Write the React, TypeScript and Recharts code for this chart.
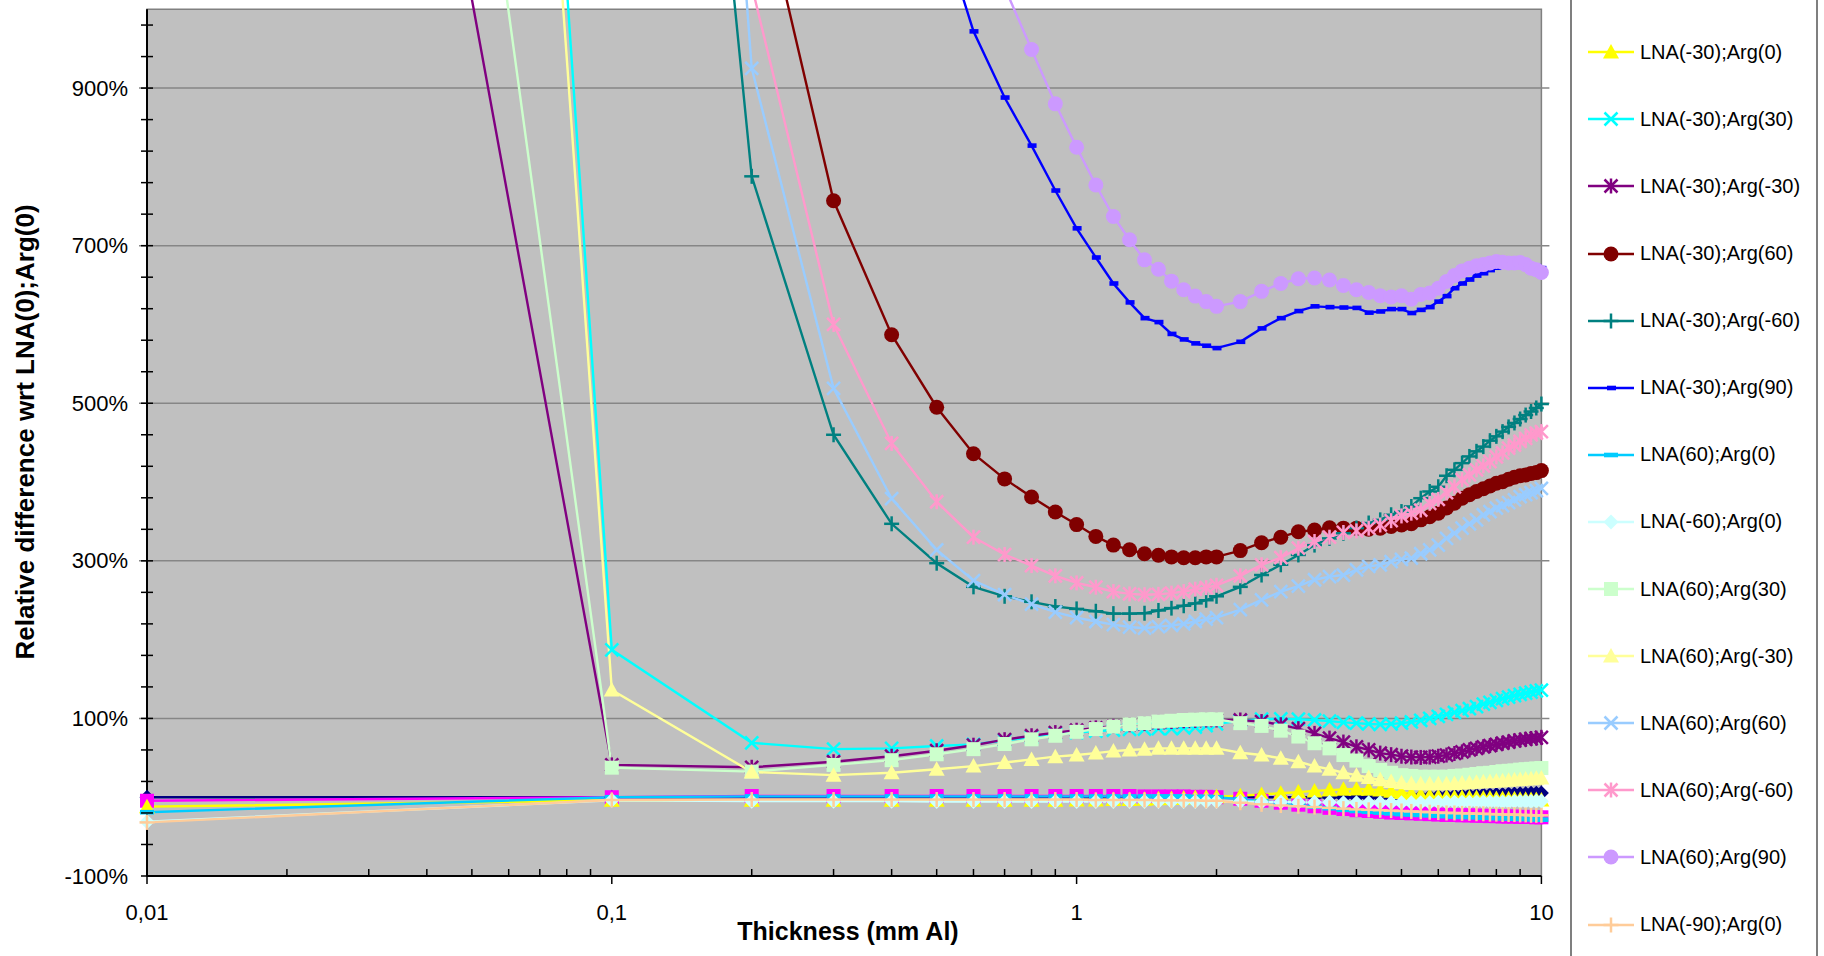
import React from 'react';
import { LineChart, Line, XAxis, YAxis, ReferenceArea, ReferenceLine, Label } from 'recharts';

// ---------------- data ----------------
const THICKNESS = [
  0.01, 0.1,
  0.2, 0.3, 0.4, 0.5, 0.6, 0.7, 0.8, 0.9, 1, 1.1, 1.2, 1.3, 1.4, 1.5, 1.6, 1.7, 1.8, 1.9, 2,
  2.25, 2.5, 2.75, 3, 3.25, 3.5, 3.75, 4, 4.25, 4.5, 4.75, 5, 5.25, 5.5, 5.75, 6, 6.25, 6.5, 6.75,
  7, 7.25, 7.5, 7.75, 8, 8.25, 8.5, 8.75, 9, 9.25, 9.5, 9.75, 10,
];

const SERIES_NAMES = [
  'LNA(0);Arg(0)',
  'LNA(30);Arg(0)',
  'LNA(-30);Arg(0)',
  'LNA(-30);Arg(30)',
  'LNA(-30);Arg(-30)',
  'LNA(-30);Arg(60)',
  'LNA(-30);Arg(-60)',
  'LNA(-30);Arg(90)',
  'LNA(60);Arg(0)',
  'LNA(-60);Arg(0)',
  'LNA(60);Arg(30)',
  'LNA(60);Arg(-30)',
  'LNA(60);Arg(60)',
  'LNA(60);Arg(-60)',
  'LNA(60);Arg(90)',
  'LNA(-90);Arg(0)',
];

// first legend entry visible in the picture (earlier ones lie above the image)
const FIRST_VISIBLE_LEGEND_ENTRY = 2;

const LNA0_ARG0 = [0, 0,
  0, 0, 0, 0, 0, 0, 0, 0, 0, 0, 0, 0, 0, 0, 0, 0, 0, 0, 0,
  0, 0, 0, 0, 0, 0, 0, 0, 0, 0, 0, 0.5, 0.5, 1, 1, 1.5, 1.5, 2, 2, 2.5, 2.5, 3, 3, 3.5, 3.5, 4, 4, 4.5, 4.5, 5, 5, 5.5];
const LNA30_ARG0 = [-4.5, 0,
  1.5, 1.5, 1.5, 1.5, 1.5, 1.5, 1.5, 1.5, 1.5, 1.5, 1.5, 1.5, 1, 1, 1, 1, 0.5, 0.5, 0,
  -2, -4.5, -7, -9.5, -11.5, -13.5, -15, -16.5, -17.5, -18.5, -19.5, -20, -20.5, -21, -21.5, -22, -22.5, -22.5, -23, -23, -23.5, -23.5, -24, -24, -24.5, -24.5, -24.5, -25, -25, -25, -25.5, -25.5];
const LNAm30_ARG0 = [-12, -4,
  -4, -4, -4, -4, -4, -4, -4, -4, -3.5, -3.5, -3, -3, -2.5, -2, -1.5, -1, -0.5, 0, 0.5,
  2, 3.5, 5, 6.5, 8, 9, 10, 10.5, 10, 9, 7.5, 6, 4.5, 3, 2, 1, 0.5, 0, 0, -0.5, -0.5, -1, -1, -1.5, -1.5, -2, -2, -2.5, -2.5, -3, -3, -3.5];
const LNAm30_ARG30 = [8869, 187,
  69, 61, 62, 65, 67, 72, 76, 80, 82, 84, 85, 86, 86.5, 87, 87, 88, 89, 91, 93,
  97, 99, 99.5, 99, 98, 96.5, 95, 94, 93, 92.5, 93, 94, 95.5, 97.5, 100, 102.5, 105, 107.5, 110, 112.5, 115, 118, 120.5, 123, 125, 127, 129, 130.5, 132, 133.5, 135, 136];
const LNAm30_ARGm30 = [3269, 41,
  38, 45, 52, 59, 66, 73, 78, 82, 85, 88, 90, 92, 93.5, 95, 96, 97, 97.5, 98, 98,
  98, 96, 92, 87, 81, 75, 70, 64, 60, 56, 54, 52, 51, 50.5, 51, 52, 53.5, 55.5, 57.5, 60, 62, 64, 65.5, 67, 68.5, 70, 71.5, 72.5, 73.5, 74.5, 75, 76];
const LNAm30_ARG60 = [50000, 8000,
  1202, 757, 587, 495, 436, 404, 381, 362, 346, 331, 320, 314, 309, 307, 305, 304, 304, 305, 305,
  313, 323, 330, 337, 339, 342, 341.5, 341.5, 340, 341.5, 343.5, 345.5, 347, 352, 356, 360.5, 367, 373, 379.5, 384, 388, 391.5, 395, 398.5, 400.5, 403.5, 406, 408, 409, 411, 412, 414.5];
const LNAm30_ARGm60 = [30000, 2578,
  788, 460, 347, 297, 267, 255, 248, 242, 239, 236, 233, 233, 233.5, 237, 240, 243, 246, 250, 255,
  267, 282, 295, 307.5, 320, 328.5, 335, 341.5, 348, 352, 358.5, 362.5, 369, 379.5, 388, 394, 408, 415.5, 424, 432.5, 439, 445, 452.5, 458, 464, 470, 475, 480, 485, 489.5, 494, 499];
const LNAm30_ARG90 = [60000, 20000,
  6000, 3000, 1800, 1121, 972, 888, 827, 770, 722, 685, 652, 628, 608, 603, 588, 581, 576, 573, 570,
  578, 595, 608, 617, 623, 622, 621.5, 621, 615, 616.5, 619.5, 619.5, 614.5, 618.5, 622, 629, 636, 646, 652, 657, 662, 665, 669, 672, 674, 675, 675.5, 675.5, 676, 675, 674, 671.5];
const LNA60_ARG0 = [-19, 0,
  1, 1, 1, 1, 1, 1, 1, 1, 1, 1, 1, 1, 1, 1, 1, 1, 0.5, 0.5, 0,
  -2.5, -5, -7.5, -10, -12, -14, -16, -17.5, -18.5, -19.5, -20.5, -21.5, -22, -22.5, -23, -23.5, -24, -24.5, -25, -25, -25.5, -26, -26, -26.5, -26.5, -27, -27, -27.5, -27.5, -28, -28, -28.5];
const LNAm60_ARG0 = [-31, -4,
  -5, -5, -5, -5.5, -5.5, -5.5, -5.5, -5.5, -5.5, -5.5, -5.5, -5.5, -5.5, -5.5, -5.5, -5.5, -5.5, -5.5, -5.5,
  -5.5, -6, -6, -6.5, -6.5, -6.5, -7, -7, -7, -7, -7, -7, -7, -7, -7, -6.5, -6.5, -6.5, -6.5, -6.5, -6, -6, -6, -6, -6, -6, -5.5, -5.5, -5.5, -5.5, -5, -5];
const LNA60_ARG30 = [4360, 37.5,
  32.5, 41, 47, 54.5, 61, 67.5, 73.5, 78, 83, 86.5, 89.5, 92.5, 94, 96, 97, 98, 98.5, 99, 99,
  94, 90.5, 84.5, 77, 68.5, 62, 53.5, 46.5, 39.5, 34.5, 31, 28, 27, 26, 26, 26, 26, 27, 27.5, 28.5, 29.5, 30.5, 31, 32, 33, 33.5, 34, 35, 35.5, 36, 36.5, 37];
const LNA60_ARGm30 = [8414, 136,
  32, 28, 31, 35.5, 39.5, 44, 48, 51.5, 53.5, 56, 58.5, 60, 61, 62, 62, 62, 62, 62, 62,
  56.5, 53.5, 49.5, 45, 39.5, 35.5, 31, 28, 25, 22, 20, 18.5, 17.5, 17, 17, 17, 17, 17.5, 18, 18.5, 19, 19.5, 20, 20.5, 21, 21.5, 22, 22.5, 23, 23.5, 24, 24.5];
const LNA60_ARG60 = [35000, 3304,
  925, 519, 379, 314, 275, 257, 245, 235, 228, 223, 219, 216, 214.5, 216.5, 218, 220, 223, 226, 228,
  238, 250.5, 261, 268, 276, 280, 282, 288.5, 293, 295, 299, 302, 303.5, 309, 314, 320, 328.5, 335, 341.5, 347, 352, 358.5, 362.5, 367, 370, 374, 377.5, 381.5, 384, 386.5, 389, 392];
const LNA60_ARGm60 = [40000, 6000,
  1030, 600, 449, 375, 330, 308, 294, 281, 272, 266.5, 261, 258, 257, 257.5, 259, 261, 264, 266, 269,
  281, 295, 304, 316, 324.5, 330, 336, 338, 341.5, 345.5, 351, 357, 360.5, 364.5, 373, 378, 386.5, 394, 403, 409, 415.5, 420.5, 426, 432, 437, 443, 447, 451.5, 455.5, 460, 462, 464];
const LNA60_ARG90 = [80000, 30000,
  9000, 4500, 2600, 1800, 1300, 1028, 949, 880, 825, 777, 737, 707.5, 682, 670, 655, 644, 636, 629, 623,
  629, 642, 652, 658, 659, 656.5, 649.5, 644, 640.5, 636.5, 635, 636.5, 632, 638, 640, 646, 654.5, 662, 668, 671.5, 674.5, 676, 678, 680, 679, 678, 678, 678.5, 676, 671.5, 669.5, 666];
const LNAm90_ARG0 = [-32, -3.5,
  -3, -3, -3, -3, -3, -3, -3, -3, -3, -3.5, -3.5, -3.5, -3.5, -4, -4, -4, -4, -4.5, -4.5,
  -7, -9, -10.5, -11.5, -12.5, -13.5, -14.5, -15.5, -16, -16.5, -17, -17.5, -18, -18.5, -19, -19.5, -20, -20, -20.5, -20.5, -21, -21, -21.5, -21.5, -22, -22, -22, -22.5, -22.5, -23, -23, -23];

const SERIES_VALUES = [
  LNA0_ARG0, LNA30_ARG0, LNAm30_ARG0, LNAm30_ARG30, LNAm30_ARGm30, LNAm30_ARG60, LNAm30_ARGm60, LNAm30_ARG90,
  LNA60_ARG0, LNAm60_ARG0, LNA60_ARG30, LNA60_ARGm30, LNA60_ARG60, LNA60_ARGm60, LNA60_ARG90, LNAm90_ARG0,
];

const X_MAJOR_TICKS = [0.01, 0.1, 1, 10];
const X_MINOR_TICKS = [
  0.02, 0.03, 0.04, 0.05, 0.06, 0.07, 0.08, 0.09,
  0.2, 0.3, 0.4, 0.5, 0.6, 0.7, 0.8, 0.9,
  2, 3, 4, 5, 6, 7, 8, 9,
];
const Y_TICKS = [-100, -60, -20, 20, 60, 100, 140, 180, 220, 260, 300, 340, 380, 420, 460, 500, 540, 580, 620, 660, 700, 740, 780, 820, 860, 900, 940, 980];
const Y_LABELED_TICKS = [-100, 100, 300, 500, 700, 900];
const GRID_VALUES = [100, 300, 500, 700, 900];

// ---------------- styles ----------------
const SERIES_COLORS = [
  '#000080', '#FF00FF', '#FFFF00', '#00FFFF', '#800080', '#800000', '#008080', '#0000FF',
  '#00CCFF', '#CCFFFF', '#CCFFCC', '#FFFF99', '#99CCFF', '#FF99CC', '#CC99FF', '#FFCC99',
];
const SERIES_MARKERS = [
  'diamond', 'square', 'triangle', 'x', 'star', 'circle', 'plus', 'shortDash',
  'longDash', 'diamond', 'square', 'triangle', 'x', 'star', 'circle', 'plus',
];

const W = 1824;
const H = 956;
const AXIS_X = 147;
const AXIS_Y = 876;
const EDGE_PAD = 8;
const FONT = '"Liberation Sans", Arial, Helvetica, sans-serif';

const DATA = THICKNESS.map((t, i) => {
  const row: Record<string, number> = { t };
  SERIES_VALUES.forEach((vals, s) => {
    row[`s${s}`] = vals[i];
  });
  return row;
});

function MarkerShape({ shape, cx, cy, color }: { shape: string; cx: number; cy: number; color: string }) {
  switch (shape) {
    case 'diamond':
      return <polygon points={`${cx},${cy - 7.5} ${cx + 7.5},${cy} ${cx},${cy + 7.5} ${cx - 7.5},${cy}`} fill={color} />;
    case 'square':
      return <rect x={cx - 7} y={cy - 7} width={14} height={14} fill={color} />;
    case 'triangle':
      return <polygon points={`${cx},${cy - 8} ${cx + 8},${cy + 6.5} ${cx - 8},${cy + 6.5}`} fill={color} />;
    case 'x':
      return (
        <g stroke={color} strokeWidth={2.5}>
          <line x1={cx - 6.5} y1={cy - 6.5} x2={cx + 6.5} y2={cy + 6.5} />
          <line x1={cx - 6.5} y1={cy + 6.5} x2={cx + 6.5} y2={cy - 6.5} />
        </g>
      );
    case 'star':
      return (
        <g stroke={color} strokeWidth={2.5}>
          <line x1={cx - 6.5} y1={cy - 6.5} x2={cx + 6.5} y2={cy + 6.5} />
          <line x1={cx - 6.5} y1={cy + 6.5} x2={cx + 6.5} y2={cy - 6.5} />
          <line x1={cx} y1={cy - 7.5} x2={cx} y2={cy + 7.5} />
        </g>
      );
    case 'circle':
      return <circle cx={cx} cy={cy} r={7.5} fill={color} />;
    case 'plus':
      return (
        <g stroke={color} strokeWidth={2.5}>
          <line x1={cx - 7.5} y1={cy} x2={cx + 7.5} y2={cy} />
          <line x1={cx} y1={cy - 7.5} x2={cx} y2={cy + 7.5} />
        </g>
      );
    case 'shortDash':
      return <rect x={cx - 4} y={cy - 2.3} width={9} height={4.6} fill={color} />;
    case 'longDash':
      return <rect x={cx - 7} y={cy - 2.3} width={14} height={4.6} fill={color} />;
    default:
      return null;
  }
}

const makeDot = (shape: string, color: string) => (props: any) => {
  const { cx, cy, index } = props;
  if (cx == null || cy == null || !isFinite(cx) || !isFinite(cy)) return <g key={`d-${index}`} />;
  return (
    <g key={`d-${index}`}>
      <MarkerShape shape={shape} cx={cx} cy={cy} color={color} />
    </g>
  );
};

const fmtX = (v: number) => String(v).replace('.', ',');

const XTick = (props: any) => {
  const { x, payload } = props;
  const v = payload.value;
  const major = X_MAJOR_TICKS.includes(v);
  return (
    <g>
      {major ? (
        <line x1={x} x2={x} y1={AXIS_Y} y2={AXIS_Y + 8} stroke="#000" strokeWidth={1.5} />
      ) : (
        <line x1={x} x2={x} y1={AXIS_Y - 7} y2={AXIS_Y} stroke="#000" strokeWidth={1.5} />
      )}
      {major && (
        <text x={x} y={AXIS_Y + 36} textAnchor="middle" dominantBaseline="central" fontSize={22} fill="#000" fontFamily={FONT}>
          {fmtX(v)}
        </text>
      )}
    </g>
  );
};

const YTick = (props: any) => {
  const { y, payload } = props;
  const v = payload.value;
  const labeled = Y_LABELED_TICKS.includes(v);
  return (
    <g>
      <line x1={AXIS_X - 6} x2={AXIS_X + 6} y1={y} y2={y} stroke="#000" strokeWidth={1.5} />
      {labeled && (
        <text x={AXIS_X - 19} y={y} textAnchor="end" dominantBaseline="central" fontSize={22} fill="#000" fontFamily={FONT}>
          {`${v}%`}
        </text>
      )}
    </g>
  );
};

const XTitle = () => (
  <text x={848} y={931} textAnchor="middle" dominantBaseline="central" fontSize={25} fontWeight="bold" fill="#000" fontFamily={FONT}>
    Thickness (mm Al)
  </text>
);

const YTitle = () => (
  <text
    x={25}
    y={432}
    transform="rotate(-90 25 432)"
    textAnchor="middle"
    dominantBaseline="central"
    fontSize={26}
    fontWeight="bold"
    fill="#000"
    fontFamily={FONT}
  >
    Relative difference wrt LNA(0);Arg(0)
  </text>
);

const ROW_H = 67.1;

function LegendBox() {
  const entries = SERIES_NAMES.map((name, i) => ({ name, i })).filter((e) => e.i >= FIRST_VISIBLE_LEGEND_ENTRY);
  return (
    <div
      style={{
        position: 'absolute',
        left: 1570,
        top: -20,
        width: 248,
        height: 1010,
        border: '2px solid #7f7f7f',
        boxSizing: 'border-box',
        background: '#fff',
        paddingTop: 36.75,
      }}
    >
      {entries.map(({ name, i }) => (
        <div key={name} style={{ height: ROW_H, display: 'flex', alignItems: 'center' }}>
          <svg width={66} height={24} style={{ flex: '0 0 auto' }}>
            <line x1={16} y1={12} x2={62} y2={12} stroke={SERIES_COLORS[i]} strokeWidth={2.5} />
            <MarkerShape shape={SERIES_MARKERS[i]} cx={39} cy={12} color={SERIES_COLORS[i]} />
          </svg>
          <span style={{ marginLeft: 2, fontSize: 20, color: '#000', whiteSpace: 'nowrap', fontFamily: FONT }}>{name}</span>
        </div>
      ))}
    </div>
  );
}

export default function App() {
  return (
    <div
      style={{
        position: 'absolute',
        left: 0,
        top: 0,
        width: W,
        height: H,
        overflow: 'hidden',
        background: '#fff',
        fontFamily: FONT,
      }}
    >
      <LineChart width={W} height={H} data={DATA} margin={{ top: 0, right: W - 1541.4 - EDGE_PAD, bottom: 0, left: 0 }}>
        <XAxis
          dataKey="t"
          type="number"
          scale="log"
          domain={[0.01, 10]}
          padding={{ left: EDGE_PAD, right: EDGE_PAD }}
          ticks={[...X_MINOR_TICKS, ...X_MAJOR_TICKS].sort((a, b) => a - b)}
          interval={0}
          tickSize={0}
          tickMargin={0}
          axisLine={false}
          tickLine={false}
          tick={<XTick />}
          height={H - AXIS_Y}
        >
          <Label content={<XTitle />} />
        </XAxis>
        <YAxis
          type="number"
          domain={[-100, 1011.8]}
          allowDataOverflow
          ticks={Y_TICKS}
          interval={0}
          tickSize={0}
          tickMargin={0}
          axisLine={false}
          tickLine={false}
          tick={<YTick />}
          width={AXIS_X - EDGE_PAD}
        >
          <Label content={<YTitle />} />
        </YAxis>
        <ReferenceArea
          x1={0.01}
          x2={10}
          y1={-100}
          y2={1000}
          fill="#C0C0C0"
          fillOpacity={1}
          stroke="#808080"
          strokeWidth={1.5}
          zIndex={-200}
        />
        {GRID_VALUES.map((v) => (
          <ReferenceLine key={v} y={v} stroke="#868686" strokeWidth={1.5} zIndex={-150} />
        ))}
        <ReferenceLine
          segment={[{ x: 0.01, y: -100 }, { x: 0.01, y: 1000 }]}
          stroke="#000"
          strokeWidth={2}
        />
        <ReferenceLine
          segment={[{ x: 0.01, y: -100 }, { x: 10, y: -100 }]}
          stroke="#000"
          strokeWidth={2}
        />
        {SERIES_NAMES.map((name, s) => (
          <Line
            key={name}
            type="linear"
            dataKey={`s${s}`}
            name={name}
            stroke={SERIES_COLORS[s]}
            strokeWidth={2.4}
            dot={makeDot(SERIES_MARKERS[s], SERIES_COLORS[s])}
            activeDot={false}
            isAnimationActive={false}
            legendType="none"
          />
        ))}
      </LineChart>
      <LegendBox />
    </div>
  );
}
